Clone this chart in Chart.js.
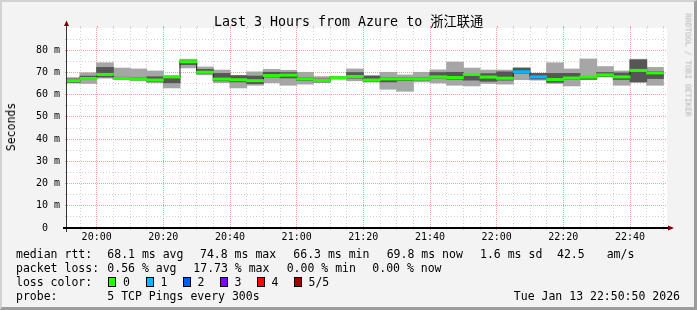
<!DOCTYPE html>
<html><head><meta charset="utf-8">
<script src="https://cdn.jsdelivr.net/npm/chart.js@4.4.1/dist/chart.umd.min.js"></script>
<style>
html,body{margin:0;padding:0;}
body{width:697px;height:310px;overflow:hidden;background:#f3f3f3;position:relative;font-family:"DejaVu Sans Mono",monospace;}
#frame{position:absolute;left:0;top:0;width:697px;height:310px;box-sizing:border-box;border-top:2px solid #d2d2d2;border-left:2px solid #d2d2d2;border-right:3px solid #9c9c9c;border-bottom:3px solid #9c9c9c;pointer-events:none;}
canvas{position:absolute;left:0;top:0;}
.t{position:absolute;white-space:pre;color:#000;font-size:11.5px;line-height:14px;height:14px;}
.box{position:absolute;width:8px;height:10px;box-sizing:border-box;border:1px solid #000;top:277px;}
#title{position:absolute;left:214px;top:14px;font-size:13.3px;line-height:16px;white-space:pre;font-family:"DejaVu Sans Mono","Noto Sans CJK SC",monospace;color:#000;}
#ylab{position:absolute;left:11px;top:127px;transform:translate(-50%,-50%) rotate(-90deg);font-size:11.5px;white-space:pre;color:#000;}
#wm{position:absolute;left:688px;top:65px;transform:translate(-50%,-50%) rotate(90deg);font-size:7.8px;white-space:pre;color:#b4b4b4;}
</style></head>
<body>
<canvas id="c" width="697" height="310"></canvas>
<div id="title">Last 3 Hours from Azure to 浙江联通</div>
<div id="ylab">Seconds</div>
<div id="wm">RRDTOOL / TOBI OETIKER</div>
<div id="legend"></div>
<div id="frame"></div>
<script>
// ---- data ----
const binTimes = ["19:50","19:55","20:00","20:05","20:10","20:15","20:20","20:25","20:30","20:35","20:40","20:45",
  "20:50","20:55","21:00","21:05","21:10","21:15","21:20","21:25","21:30","21:35","21:40","21:45",
  "21:50","21:55","22:00","22:05","22:10","22:15","22:20","22:25","22:30","22:35","22:40","22:45"];
const rttMin = [65.3,65.1,67.5,66.9,66.3,65.4,63.1,72.1,69.0,65.5,63.1,64.3,
  65.4,64.3,64.8,65.5,67.0,66.3,65.7,62.5,61.6,65.8,65.3,64.3,
  64.0,65.1,64.8,66.8,66.6,65.1,64.0,66.9,68.0,64.3,65.5,64.3];
const rttLo = [65.6,67.0,68.0,67.0,66.8,66.0,65.4,73.6,69.5,66.3,65.8,65.0,
  68.0,67.6,66.5,65.8,67.3,67.5,66.1,65.8,66.4,66.6,67.5,67.0,
  66.6,66.1,66.6,69.7,67.1,65.6,67.0,67.0,68.3,66.9,65.9,67.3];
const rttMedian = [66.3,67.3,69.1,67.3,67.1,66.6,68.0,74.8,70.1,67.0,66.7,66.3,
  68.6,68.8,67.1,66.4,67.6,68.2,66.6,67.1,67.1,67.1,68.0,67.7,
  69.1,67.9,67.4,70.3,68.0,66.8,67.5,67.9,68.9,68.0,70.9,69.8];
const rttHi = [67.0,68.3,72.2,67.8,67.6,68.0,68.2,75.2,71.3,69.5,68.5,68.3,
  70.0,69.9,67.6,67.0,67.8,69.9,68.2,67.6,67.6,67.6,69.9,70.0,
  69.5,69.4,70.2,71.9,69.5,69.5,69.5,67.9,69.9,69.7,75.6,70.4];
const rttMax = [67.6,69.8,74.3,71.9,71.5,70.6,68.5,75.9,72.4,71.0,68.6,70.2,
  71.3,70.9,70.0,68.1,68.2,71.5,68.6,70.0,68.8,70.0,71.1,74.6,
  71.9,71.0,71.0,72.0,69.5,74.3,71.5,76.0,72.6,70.6,75.9,72.2];
const lossLevel = [0,0,0,0,0,0,0,0,0,0,0,0, 0,0,0,0,0,0,0,0,0,0,0,0, 0,0,0,1,1,0,0,0,0,0,0,0];
const xTickLabels = ["20:00","20:20","20:40","21:00","21:20","21:40","22:00","22:20","22:40"];
const yTickLabels = ["0  ","10 m","20 m","30 m","40 m","50 m","60 m","70 m","80 m"];
const lossNames = ["0","1","2","3","4","5/5"];
const lossColors = ["#26ff00","#00b8ff","#0059ff","#7e00ff","#ff0000","#a10000"];

// ---- legend text ----
const legendPieces = [
  [0,16,"median rtt:"],[0,107.3,"68.1 ms avg"],[0,200,"74.8 ms max"],[0,293.3,"66.3 ms min"],[0,386.7,"69.8 ms now"],[0,480,"1.6 ms sd"],[0,557,"42.5"],[0,606.7,"am/s"],
  [1,16,"packet loss:"],[1,107.3,"0.56 % avg"],[1,193.3,"17.73 % max"],[1,286.7,"0.00 % min"],[1,372.3,"0.00 % now"],
  [2,16,"loss color:"],
  [3,16,"probe:"],[3,107.3,"5 TCP Pings every 300s"]
];
const rowTop = [247,261,275,289];
const leg = document.getElementById('legend');
legendPieces.forEach(p=>{const d=document.createElement('div');d.className='t';d.style.left=p[1]+'px';d.style.top=rowTop[p[0]]+'px';d.textContent=p[2];leg.appendChild(d);});
const boxX=[108,145.5,182.5,219.5,256.5,293.5];
lossNames.forEach((n,i)=>{
  const b=document.createElement('div');b.className='box';b.style.left=boxX[i]+'px';b.style.background=lossColors[i];leg.appendChild(b);
  const d=document.createElement('div');d.className='t';d.style.left=(boxX[i]+15)+'px';d.style.top=rowTop[2]+'px';d.textContent=n;leg.appendChild(d);
});
const dt=document.createElement('div');dt.className='t';dt.style.right='17px';dt.style.top=rowTop[3]+'px';dt.textContent='Tue Jan 13 22:50:50 2026';leg.appendChild(dt);

// ---- chart ----
const toMin = s => { const [h,m] = s.split(':').map(Number); return (h-20)*60 + m; };
const starts = binTimes.map(toMin);
const centers = starts.map(s => s + 2.5);
const lightData = centers.map((x,i)=>({x, y:[rttMin[i], rttMax[i]]}));
const darkData = centers.map((x,i)=>({x, y:[rttLo[i], rttHi[i]]}));
const medBars = centers.map((x,i)=>({x, y:[rttMedian[i]-0.45, rttMedian[i]+0.45]}));
const medLine = starts.map((x,i)=>({x, y:rttMedian[i]})).concat([{x:starts[starts.length-1]+5, y:rttMedian[rttMedian.length-1]}]);

const RED='#f2a2a2', GRAY='#d2d2d2';
Chart.defaults.font.family = "'DejaVu Sans Mono', monospace";
Chart.defaults.font.size = 10;
Chart.defaults.color = '#000';

const plotPlugin = {
  id:'plot',
  beforeDraw(chart){
    const {ctx, chartArea:a} = chart;
    ctx.save(); ctx.fillStyle='#fff'; ctx.fillRect(a.left,a.top,a.right-a.left,a.bottom-a.top); ctx.restore();
  },
  afterDraw(chart){
    const {ctx, chartArea:a} = chart;
    const xs = chart.scales.x;
    ctx.save();
    ctx.lineWidth = 1;
    xs.ticks.forEach(t=>{
      const px = Math.round(xs.getPixelForValue(t.value)) + 0.5;
      ctx.strokeStyle = (t.value % 20 === 0) ? RED : GRAY;
      ctx.beginPath(); ctx.moveTo(px, a.top-2); ctx.lineTo(px, a.top); ctx.stroke();
    });
    ctx.strokeStyle = '#333';
    ctx.beginPath(); ctx.moveTo(a.left-0.5, a.top-2); ctx.lineTo(a.left-0.5, a.bottom+4); ctx.stroke();
    ctx.strokeStyle = '#000'; ctx.lineWidth = 2;
    ctx.beginPath(); ctx.moveTo(a.left-4, a.bottom); ctx.lineTo(a.right+1, a.bottom); ctx.stroke();
    ctx.fillStyle = '#7f0000';
    ctx.beginPath(); ctx.moveTo(a.left-3, a.top-2); ctx.lineTo(a.left+2, a.top-2); ctx.lineTo(a.left-0.5, a.top-7.5); ctx.closePath(); ctx.fill();
    ctx.beginPath(); ctx.moveTo(a.right+1, a.bottom-2.5); ctx.lineTo(a.right+1, a.bottom+2.5); ctx.lineTo(a.right+7, a.bottom); ctx.closePath(); ctx.fill();
    ctx.restore();
  }
};

new Chart(document.getElementById('c'), {
  type:'bar',
  data:{
    datasets:[
      {type:'bar', data:medBars, backgroundColor: medBars.map((_,i)=>lossColors[lossLevel[i]]), order:0, clip:0},
      {type:'line', data:medLine, stepped:true, borderColor:'#222', borderWidth:1, pointRadius:0, fill:false, order:1, clip:0},
      {type:'bar', data:darkData, backgroundColor:'#565656', order:2, clip:0},
      {type:'bar', data:lightData, backgroundColor:'#a6a6a6', order:3, clip:0}
    ]
  },
  options:{
    responsive:false, animation:false, devicePixelRatio:1,
    layout:{padding:{left:0,right:30,top:28,bottom:0}},
    datasets:{bar:{grouped:false, barPercentage:1, categoryPercentage:1, borderWidth:0, inflateAmount:0.5}},
    plugins:{legend:{display:false}, tooltip:{enabled:false}, title:{display:false}},
    scales:{
      x:{
        type:'linear', min:-8.9, max:171.1, offset:false,
        afterBuildTicks: s => { const t=[]; for(let v=-5; v<=170; v+=5) t.push({value:v}); s.ticks=t; },
        afterFit: s => { s.height = 82; },
        ticks:{autoSkip:false, maxRotation:0, padding:1,
          callback: v => (v % 20 === 0 && v >= 0) ? xTickLabels[v/20] : ''},
        grid:{offset:false, drawTicks:true, tickLength:2,
          color: c => (c.tick && c.tick.value % 20 === 0) ? RED : GRAY},
        border:{display:false, dash: c => (c.tick && c.tick.value % 20 === 0) ? [1,1] : [1,2]}
      },
      y:{
        type:'linear', min:0, max:90,
        afterBuildTicks: s => { const t=[]; for(let v=0; v<=90; v+=5) t.push({value:v}); s.ticks=t; },
        afterFit: s => { s.width = 67; },
        ticks:{autoSkip:false, padding:5,
          callback: v => (v % 10 === 0 && v < 90) ? yTickLabels[v/10] : ''},
        grid:{offset:false, drawTicks:true, tickLength:2,
          color: c => { const v = c.tick ? c.tick.value : 0; if (v === 0 || v === 90) return 'rgba(0,0,0,0)'; return v % 10 === 0 ? RED : GRAY; }},
        border:{display:false, dash: c => (c.tick && c.tick.value % 10 === 0) ? [1,1] : [1,2]}
      }
    }
  },
  plugins:[plotPlugin]
});
</script>
</body></html>
